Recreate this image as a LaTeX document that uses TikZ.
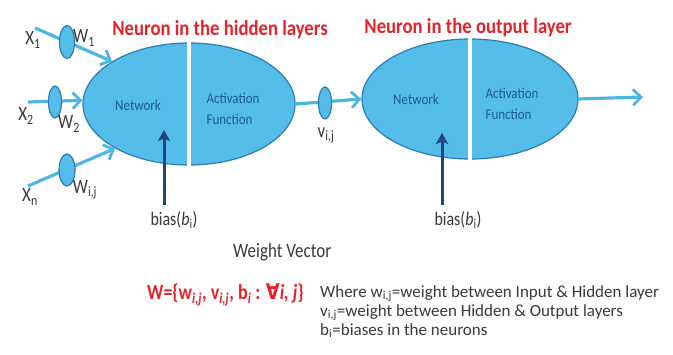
\documentclass[tikz,border=0pt]{standalone}
\usepackage{fontspec}
\setmainfont{Carlito}
\newfontfamily\symfont{DejaVu Sans}
\usetikzlibrary{shapes.geometric,arrows.meta}
\definecolor{fillblue}{HTML}{55BDEA}
\definecolor{edgeblue}{HTML}{2A7DB5}
\definecolor{lineblue}{HTML}{4DB6E4}
\definecolor{navy}{HTML}{1F4480}
\definecolor{textblue}{HTML}{1E5A96}
\definecolor{redtxt}{HTML}{E4232B}
\definecolor{graytxt}{HTML}{3A3A3A}
\tikzset{
  neuron/.style={ellipse, draw=edgeblue, fill=fillblue, line width=1.2pt, inner sep=0pt},
  wov/.style={ellipse, draw=edgeblue, fill=fillblue, line width=1.2pt, inner sep=0pt},
  inarrow/.style={draw=lineblue, line width=3.2pt, -{Straight Barb[length=8pt,width=16pt,line width=2.8pt]}},
  biasarrow/.style={draw=navy, line width=3pt, -{Stealth[length=11pt,width=12pt,inset=2.5pt]}},
  title/.style={text=redtxt, font=\fontsize{18.7}{22}\selectfont\bfseries, yscale=1.15},
  intext/.style={text=textblue, font=\fontsize{13}{18}\selectfont, align=left, yscale=1.15},
  lbl/.style={text=graytxt, font=\fontsize{17}{20}\selectfont, inner sep=0pt, yscale=1.2},
  desc/.style={text=graytxt, font=\fontsize{17}{18.5}\selectfont, align=left, inner sep=0pt}
}
\begin{document}
\begin{tikzpicture}[x=1pt,y=-1pt]
\useasboundingbox[fill=white] (0,0) rectangle (673,354);
% neurons
\node[neuron, minimum width=212pt, minimum height=122pt] (hid) at (189,104) {};
\node[neuron, minimum width=216pt, minimum height=120pt] (out) at (470,99) {};
\draw[white, line width=4pt] ([yshift=1pt]hid.north) -- ([yshift=-1pt]hid.south);
\draw[white, line width=4pt] ([yshift=1pt]out.north) -- ([yshift=-1pt]out.south);
\node[intext] (hnet) at (138,105) {Network};
\node[intext, anchor=west] (hact) at (203,109) {Activation\\Function};
\node[intext] (onet) at (416,99) {Network};
\node[intext, anchor=west] (oact) at (482,104) {Activation\\Function};
% titles
\node[title] (htitle) at (220,30) {Neuron in the hidden layers};
\node[title] (otitle) at (468,28) {Neuron in the output layer};
% inputs
\coordinate (x1s) at (35,28);
\coordinate (x2s) at (28,102);
\coordinate (xns) at (28,186);
\draw[inarrow] (x1s) -- (hid.151);
\draw[inarrow] (x2s) -- (hid.178);
\draw[inarrow] (xns) -- (hid.211);
\node[wov, minimum width=15pt, minimum height=33pt] (w1) at (67,42) {};
\node[wov, minimum width=13pt, minimum height=32pt] (w2) at (55,102) {};
\node[wov, minimum width=16pt, minimum height=32pt] (wn) at (67,170) {};
\node[lbl] (x1l) at (33,40) {X\textsubscript{1}};
\node[lbl] (x2l) at (26,116) {X\textsubscript{2}};
\node[lbl] (xnl) at (30,197) {X\textsubscript{n}};
\node[lbl] (w1l) at (84,38) {W\textsubscript{1}};
\node[lbl] (w2l) at (69,124) {W\textsubscript{2}};
\node[lbl] (wnl) at (85,190) {W\textsubscript{i,j}};
% hidden -> output
\draw[inarrow] (hid.east) -- (out.west);
\node[wov, minimum width=13pt, minimum height=32pt] (v) at (325,103) {};
\node[lbl] (vl) at (326,135) {v\textsubscript{i,j}};
% output arrow
\coordinate (oend) at (643,97);
\draw[inarrow] (out.east) -- (oend);
% bias
\coordinate (b1s) at (164,205);
\coordinate (b1e) at (164,130);
\coordinate (b2s) at (442,205);
\coordinate (b2e) at (442,133);
\draw[biasarrow] (b1s) -- (b1e);
\draw[biasarrow] (b2s) -- (b2e);
\node[lbl, font=\fontsize{16}{20}\selectfont] (b1l) at (174,220) {bias(\textit{b}\textsubscript{i})};
\node[lbl, font=\fontsize{16}{20}\selectfont] (b2l) at (458,220) {bias(\textit{b}\textsubscript{i})};
% weight vector
\node[lbl, anchor=west] (wv) at (233,252) {Weight Vector};
\node[lbl, anchor=west, text=redtxt, font=\fontsize{18}{20}\selectfont\bfseries] (wf) at (147,295)
  {W=\{w\textsubscript{\textit{i,j}}, v\textsubscript{\textit{i,j}}, b\textsubscript{\textit{i}} : {\symfont\bfseries ∀}\textit{i, j}\}};
\node[desc, anchor=base west] (d1) at (320,297) {Where w\textsubscript{i,j}=weight between Input \& Hidden layer};
\node[desc, anchor=base west] (d2) at (320,316) {v\textsubscript{i,j}=weight between Hidden \& Output layers};
\node[desc, anchor=base west] (d3) at (320,335) {b\textsubscript{i}=biases in the neurons};
\end{tikzpicture}
\end{document}
